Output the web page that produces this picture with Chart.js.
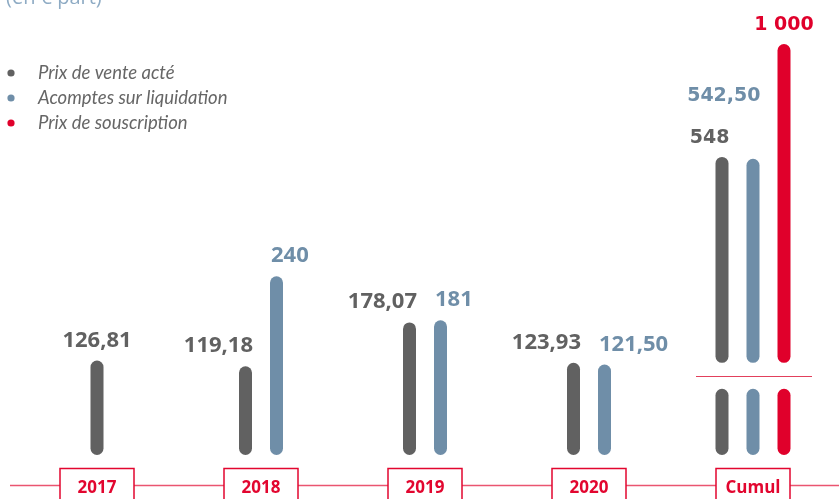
<!DOCTYPE html>
<html lang="fr">
<head>
<meta charset="utf-8">
<title>Prix de vente et acomptes par part</title>
<script src="https://cdn.jsdelivr.net/npm/chart.js@4.4.1/dist/chart.umd.min.js"></script>
<style>
  html, body { margin: 0; padding: 0; background: #fff; }
  .wrap { position: relative; width: 839px; height: 499px; }
</style>
</head>
<body>
<div class="wrap"><canvas id="partChart" width="839" height="499"></canvas></div>
<script>
/* ================================
   Data (€ par part)
================================ */
const categories = ["2017", "2018", "2019", "2020", "Cumul"];
const seriesNames = ["Prix de vente acté", "Acomptes sur liquidation", "Prix de souscription"];
const unitLabel = "(en € part)";

// yearly values
const prixVente = [126.81, 119.18, 178.07, 123.93, null];
const acomptes = [null, 240, 181, 121.50, null];

// Cumul column : prix de vente, acomptes, souscription
const cumulValues = [548, 542.50, 1000];

// axis break under the Cumul column
const breakStub = 89;    // lower piece, yearly axis
const breakStart = 183;  // upper piece starts here, cumul axis

/* ================================
   Style
================================ */
const COLORS = ["#616161", "#6f8ea8", "#e0002b"];
const RED = "#e2062f";
const YEAR_FONT = "bold 22px 'Open Sans'";
const CUMUL_FONT = "bold 19px 'DejaVu Sans'";

/* ================================
   Helpers
================================ */
function formatFr(v) {
  const s = Number.isInteger(v) ? String(v) : v.toFixed(2);
  const [int, dec] = s.split(".");
  const grouped = int.replace(/\B(?=(\d{3})+(?!\d))/g, " ");
  return dec ? `${grouped},${dec}` : grouped;
}

function cumulOnly(value) {
  return categories.map((c, i) => (i === categories.length - 1 ? value : null));
}

function barsAt(chart, index) {
  return chart.data.datasets.filter(
    ds => ds.showValue && ds.data[index] !== null
  ).length;
}

const barStyle = {
  xAxisID: "x",
  barPercentage: 1,
  maxBarThickness: 13,
  borderRadius: 7,
  borderSkipped: false,
  skipNull: true
};

/* ================================
   Datasets
================================ */
// yearly bars: two per category, 31px apart
const yearSets = [prixVente, acomptes].map((values, k) => ({
  ...barStyle,
  label: seriesNames[k],
  data: values,
  yAxisID: "y",
  categoryPercentage: 62 / 164,
  backgroundColor: COLORS[k],
  showValue: true,
  labelAlign: k === 0 ? "right" : "left",
  labelFont: YEAR_FONT
}));

const stackIds = ["vente", "acomptes", "souscription"];

// Cumul bars, upper piece (log axis)
const cumulSets = cumulValues.map((v, k) => ({
  ...barStyle,
  label: seriesNames[k],
  data: cumulOnly([breakStart, v]),
  yAxisID: "y2",
  stack: stackIds[k],
  categoryPercentage: 93 / 164,
  backgroundColor: COLORS[k],
  showValue: true,
  labelAlign: k === 2 ? "center" : "right",
  labelLift: k === 1 ? 44 : 0,
  labelFont: CUMUL_FONT
}));

// Cumul bars, lower piece under the break
const stubSets = cumulValues.map((v, k) => ({
  ...barStyle,
  label: seriesNames[k],
  data: cumulOnly(breakStub),
  yAxisID: "y",
  stack: stackIds[k],
  categoryPercentage: 93 / 164,
  backgroundColor: COLORS[k],
  showValue: false
}));

/* ================================
   Plugins
================================ */
const valueLabels = {
  id: "valueLabels",
  afterDatasetsDraw(chart) {
    const ctx = chart.ctx;
    chart.data.datasets.forEach((ds, di) => {
      if (!ds.showValue) return;
      const meta = chart.getDatasetMeta(di);
      meta.data.forEach((bar, i) => {
        const raw = ds.data[i];
        if (raw === null) return;
        const value = Array.isArray(raw) ? raw[1] : raw;
        const { x, y, width } = bar.getProps(["x", "y", "width"], true);

        let align = ds.labelAlign;
        if (barsAt(chart, i) === 1) align = "center";
        let tx = x;
        if (align === "right") tx = x + width / 2 + 1;
        if (align === "left") tx = x - width / 2 + 1;

        ctx.save();
        ctx.font = ds.labelFont;
        ctx.fillStyle = ds.backgroundColor;
        ctx.textAlign = align;
        ctx.textBaseline = "alphabetic";
        ctx.fillText(formatFr(value), tx, y - 14 - (ds.labelLift || 0));
        ctx.restore();
      });
    });
  }
};

const axisBreak = {
  id: "axisBreak",
  afterDatasetsDraw(chart) {
    const { ctx, scales } = chart;
    const yLow = scales.y.getPixelForValue(breakStub);
    const yHigh = scales.y2.getPixelForValue(breakStart);
    const cx = scales.x.getPixelForValue(categories.length - 1);
    const yMid = Math.round((yLow + yHigh) / 2) + 0.5;
    ctx.save();
    ctx.strokeStyle = "#e2405c";
    ctx.lineWidth = 1.2;
    ctx.beginPath();
    ctx.moveTo(cx - 57, yMid);
    ctx.lineTo(cx + 59, yMid);
    ctx.stroke();
    ctx.restore();
  }
};

const categoryBoxes = {
  id: "categoryBoxes",
  afterDraw(chart) {
    const { ctx, chartArea, scales, width } = chart;
    const lineY = chartArea.bottom + 30.5;
    const boxTop = chartArea.bottom + 13.5;

    ctx.save();
    ctx.strokeStyle = "#ea5570";
    ctx.lineWidth = 1.5;
    ctx.beginPath();
    ctx.moveTo(10, lineY);
    ctx.lineTo(width, lineY);
    ctx.stroke();

    categories.forEach((label, i) => {
      const cx = scales.x.getPixelForValue(i);
      ctx.fillStyle = "#fff";
      ctx.fillRect(cx - 37, boxTop, 74, 40);
      ctx.strokeStyle = RED;
      ctx.lineWidth = 1.5;
      ctx.strokeRect(cx - 37, boxTop, 74, 40);

      ctx.fillStyle = RED;
      ctx.font = "bold 17px 'Open Sans'";
      ctx.textAlign = "center";
      ctx.textBaseline = "alphabetic";
      ctx.fillText(label, cx, chartArea.bottom + 38);
    });
    ctx.restore();
  }
};

const sideLegend = {
  id: "sideLegend",
  afterDraw(chart) {
    const ctx = chart.ctx;
    ctx.save();

    // unit, clipped at the top edge
    ctx.fillStyle = "#8eabc4";
    ctx.font = "20px 'Open Sans'";
    ctx.textAlign = "left";
    ctx.textBaseline = "alphabetic";
    ctx.fillText(unitLabel, 6, 4);

    seriesNames.forEach((name, k) => {
      const y = 73 + k * 25;
      ctx.fillStyle = COLORS[k];
      ctx.beginPath();
      ctx.arc(11, y, 3.6, 0, Math.PI * 2);
      ctx.fill();

      ctx.fillStyle = "#666";
      ctx.font = "italic 18.5px Lato";
      ctx.fillText(name, 38, y + 6);
    });
    ctx.restore();
  }
};

/* ================================
   Render Chart
================================ */
function renderPartChart() {
  const ctx = document.getElementById("partChart");

  return new Chart(ctx, {
    type: "bar",
    data: {
      labels: categories,
      datasets: [...yearSets, ...cumulSets, ...stubSets]
    },
    options: {
      responsive: false,
      animation: false,
      layout: { padding: { left: 15, right: 4, top: 44, bottom: 44 } },
      plugins: {
        legend: { display: false },
        tooltip: { enabled: false }
      },
      scales: {
        x: { type: "category", display: false, offset: true },
        y: { display: false, min: 0, max: 552, stacked: false },
        y2: { type: "logarithmic", display: false, min: 112, max: 1000, stacked: false }
      }
    },
    plugins: [valueLabels, axisBreak, categoryBoxes, sideLegend]
  });
}

/* ================================
   Init
================================ */
renderPartChart();
</script>
</body>
</html>
